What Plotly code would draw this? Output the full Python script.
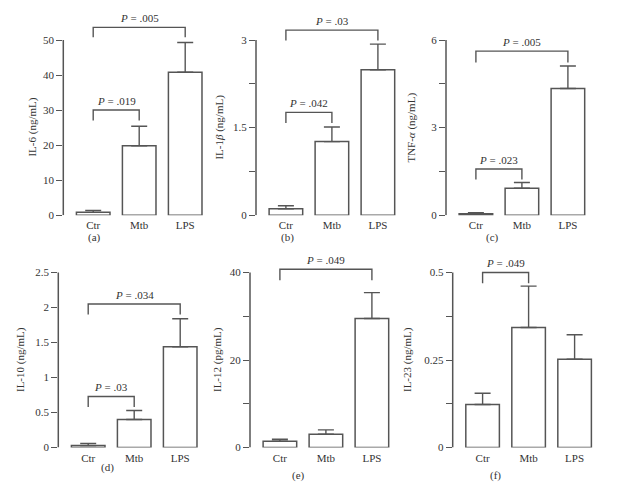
import plotly.graph_objects as go

W, H = 624, 491
SY = 1.013  # small vertical calibration of target pixel positions

categories = ["Ctr", "Mtb", "LPS"]

il6 = [0.8, 19.8, 40.8]
il6_err = [0.55, 5.6, 8.5]
il1b = [0.11, 1.26, 2.49]
il1b_err = [0.05, 0.25, 0.44]
tnfa = [0.05, 0.92, 4.34]
tnfa_err = [0.03, 0.20, 0.77]
il10 = [0.03, 0.40, 1.44]
il10_err = [0.03, 0.13, 0.40]
il12 = [1.46, 3.05, 29.5]
il12_err = [0.45, 1.0, 5.9]
il23 = [0.123, 0.343, 0.252]
il23_err = [0.032, 0.118, 0.070]

tick_a = [0, 10, 20, 30, 40, 50]
tick_b = [0, 0.75, 1.5, 2.25, 3]
tick_c = [0, 1.5, 3, 4.5, 6]
tick_d = [0, 0.5, 1, 1.5, 2, 2.5]
tick_e = [0, 10, 20, 30, 40]
tick_f = [0, 0.125, 0.25, 0.375, 0.5]
ticktext_a = ["0", "10", "20", "30", "40", "50"]
ticktext_b = ["0", "", "1.5", "", "3"]
ticktext_c = ["0", "", "3", "", "6"]
ticktext_d = ["0", "0.5", "1", "1.5", "2", "2.5"]
ticktext_e = ["0", "", "20", "", "40"]
ticktext_f = ["0", "", "0.25", "", "0.5"]

# brackets: (from index, to index, top level, leg end level, p-value text)
brackets_a = [(0, 1, 30, 27, ".019"), (0, 2, 53.6, 50.8, ".005")]
brackets_b = [(0, 1, 1.76, 1.58, ".042"), (0, 2, 3.17, 2.99, ".03")]
brackets_c = [(0, 1, 1.58, 1.22, ".023"), (0, 2, 5.62, 5.23, ".005")]
brackets_d = [(0, 1, 0.73, 0.58, ".03"), (0, 2, 2.05, 1.90, ".034")]
brackets_e = [(0, 2, 40.75, 38.2, ".049")]
brackets_f = [(0, 1, 0.5, 0.469, ".049")]

panels = [
    dict(v=il6, e=il6_err, tv=tick_a, tt=ticktext_a, br=brackets_a,
         title="IL-6 (ng/mL)", cap="(a)", ax=63.3, row=0, tx=33, cx=95, cy=237),
    dict(v=il1b, e=il1b_err, tv=tick_b, tt=ticktext_b, br=brackets_b,
         title="IL-1<i>β</i> (ng/mL)", cap="(b)", ax=256, row=0, tx=220, cx=287, cy=237),
    dict(v=tnfa, e=tnfa_err, tv=tick_c, tt=ticktext_c, br=brackets_c,
         title="TNF-<i>α</i> (ng/mL)", cap="(c)", ax=446, row=0, tx=412, cx=492, cy=237),
    dict(v=il10, e=il10_err, tv=tick_d, tt=ticktext_d, br=brackets_d,
         title="IL-10 (ng/mL)", cap="(d)", ax=58.3, row=1, tx=20, cx=107, cy=467),
    dict(v=il12, e=il12_err, tv=tick_e, tt=ticktext_e, br=brackets_e,
         title="IL-12 (pg/mL)", cap="(e)", ax=250, row=1, tx=217, cx=298, cy=475),
    dict(v=il23, e=il23_err, tv=tick_f, tt=ticktext_f, br=brackets_f,
         title="IL-23 (ng/mL)", cap="(f)", ax=452.7, row=1, tx=407, cx=495, cy=475),
]

LINE = "#555555"
TXT = "#333333"
FONT = "Liberation Serif"
AXIS_PX = 175.0
EXT = 1.16
STEP = 46.0
X0, X1 = -0.65, 2.5


def px_x(p):
    return p / W


def px_y(p):
    return 1 - p * SY / H


fig = go.Figure()
annotations = []
shapes = []
row_zero = [215.0, 447.3]

for i, p in enumerate(panels):
    n = i + 1
    xa = "x" if n == 1 else f"x{n}"
    ya = "y" if n == 1 else f"y{n}"
    xkey = "xaxis" if n == 1 else f"xaxis{n}"
    ykey = "yaxis" if n == 1 else f"yaxis{n}"
    top_val = p["tv"][-1]
    zero_px = row_zero[p["row"]]
    top_px = zero_px - AXIS_PX * EXT

    fig.add_trace(go.Bar(
        x=categories, y=p["v"], xaxis=xa, yaxis=ya,
        marker=dict(color="white", line=dict(color=LINE, width=1.5)),
        error_y=dict(type="data", array=p["e"], arrayminus=[0] * 3, symmetric=False,
                     color=LINE, thickness=1.4, width=8),
        showlegend=False,
    ))
    fig.update_layout({
        xkey: dict(domain=[px_x(p["ax"]), px_x(p["ax"] + STEP * (X1 - X0))],
                   range=[X0, X1], anchor=ya, showline=False,
                   showgrid=False, zeroline=False, ticks="", ticklabelstandoff=2,
                   tickfont=dict(family=FONT, size=11, color=TXT)),
        ykey: dict(domain=[px_y(zero_px), px_y(top_px)], range=[0, top_val * EXT],
                   anchor=xa, showline=False, showgrid=False, zeroline=False,
                   tickmode="array", tickvals=p["tv"], ticktext=p["tt"],
                   ticks="outside", ticklen=6, tickwidth=1.4, tickcolor=LINE,
                   tickfont=dict(family=FONT, size=11, color=TXT)),
    })
    # y axis line from 0 to top tick
    shapes.append(dict(type="line", xref=f"{xa} domain", yref=ya, x0=0, x1=0,
                       y0=0, y1=top_val, line=dict(color=LINE, width=1.5)))
    # brackets
    for (a, b, yt, yl, txt) in p["br"]:
        shapes.append(dict(type="path", xref=xa, yref=ya,
                           path=f"M {a},{yl} L {a},{yt} L {b},{yt} L {b},{yl}",
                           line=dict(color=LINE, width=1.4)))
        annotations.append(dict(x=(a + b) / 2, y=yt, xref=xa, yref=ya,
                                text=f"<i>P</i> = {txt}", showarrow=False,
                                xanchor="center", yanchor="bottom", yshift=1,
                                font=dict(family=FONT, size=11, color=TXT)))
    # y title
    annotations.append(dict(x=px_x(p["tx"]), y=px_y(zero_px - AXIS_PX / 2),
                            xref="paper", yref="paper", text=p["title"],
                            textangle=-90, showarrow=False,
                            xanchor="center", yanchor="middle",
                            font=dict(family=FONT, size=11, color=TXT)))
    # caption
    annotations.append(dict(x=px_x(p["cx"]), y=px_y(p["cy"]), xref="paper",
                            yref="paper", text=p["cap"], showarrow=False,
                            xanchor="center", yanchor="middle",
                            font=dict(family=FONT, size=11, color=TXT)))

fig.update_layout(width=W, height=H, margin=dict(l=0, r=0, t=0, b=0),
                  paper_bgcolor="white", plot_bgcolor="white",
                  bargap=0.27, shapes=shapes, annotations=annotations)

fig.write_html("out.html", config={"displayModeBar": False},
               post_script="document.body.style.margin='0';"
                           "document.body.style.overflow='hidden';")
